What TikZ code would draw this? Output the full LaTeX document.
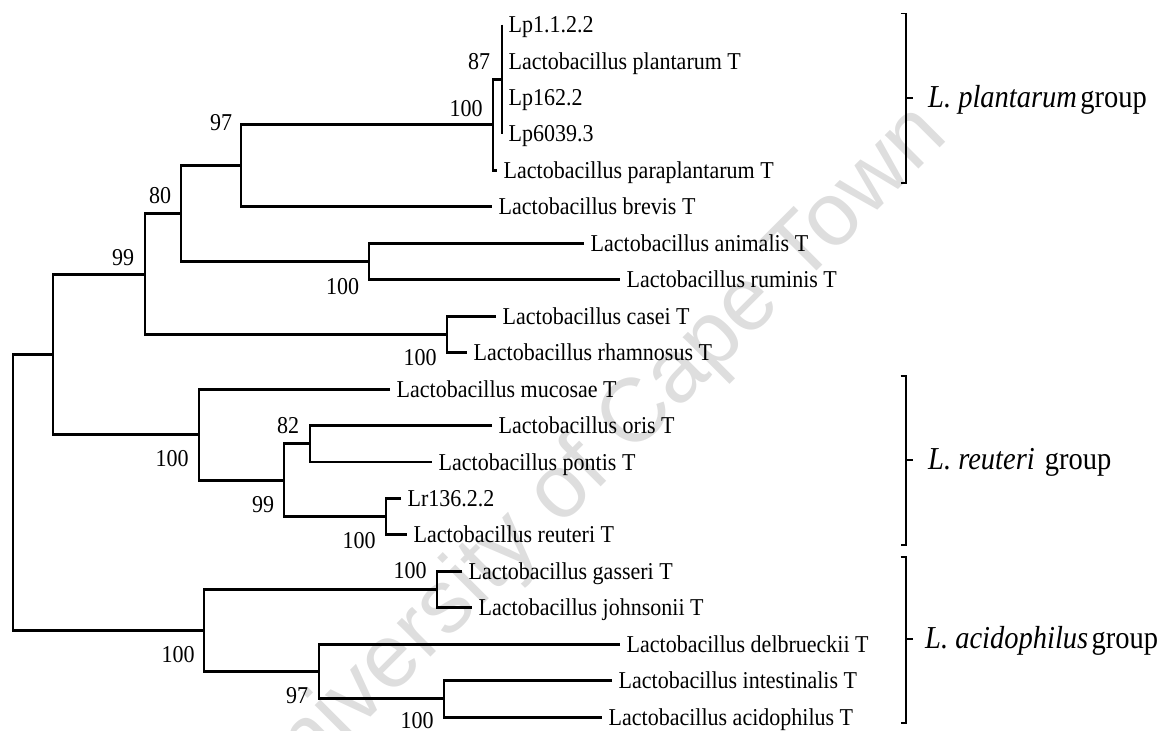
\documentclass[tikz,border=0pt]{standalone}
\usepackage{fontspec}
\setmainfont{Liberation Serif}
\newfontfamily\wmfont{Liberation Sans}
\newcommand{\tallt}[1]{\scalebox{1}[1.1]{#1}}
\newcommand{\tallg}[1]{\scalebox{1}[1.12]{#1}}
\begin{document}
\begin{tikzpicture}[x=1pt,y=-1pt,
  tree/.style={line width=2.9pt,line join=miter},
  brk/.style={line width=1.4pt},
  leaf/.style={anchor=west,inner xsep=6.5pt,inner ysep=0pt,text height=16pt,text depth=0pt,font=\fontsize{22}{26}\selectfont},
  boot/.style={anchor=center,inner sep=0pt,text height=16pt,text depth=0pt,font=\fontsize{22}{26}\selectfont},
  grp/.style={anchor=west,inner sep=0pt,text height=21pt,text depth=0pt,font=\fontsize{28.5}{32}\selectfont},
  wm/.style={text=black!13,font=\wmfont\fontsize{90}{100}\selectfont,rotate=45,inner sep=0pt}]
\useasboundingbox (0,0) rectangle (1168,731);
% watermark
\node[wm] (watermark) at (590,465) {University of Cape Town};
% leaves
\node[leaf] (lp1)    at (502,24.6)   {\tallt{Lp1.1.2.2}};
\node[leaf] (lpl)    at (502,61.05)  {\tallt{Lactobacillus plantarum T}};
\node[leaf] (lp162)  at (502,97.5)   {\tallt{Lp162.2}};
\node[leaf] (lp6039) at (502,133.95) {\tallt{Lp6039.3}};
\node[leaf] (para)   at (497,170.4)  {\tallt{Lactobacillus paraplantarum T}};
\node[leaf] (brev)   at (492,206.85) {\tallt{Lactobacillus brevis T}};
\node[leaf] (anim)   at (584,243.3)  {\tallt{Lactobacillus animalis T}};
\node[leaf] (rumi)   at (620,279.75) {\tallt{Lactobacillus ruminis T}};
\node[leaf] (case)   at (496,316.2)  {\tallt{Lactobacillus casei T}};
\node[leaf] (rham)   at (467,352.65) {\tallt{Lactobacillus rhamnosus T}};
\node[leaf] (muco)   at (390,389.1)  {\tallt{Lactobacillus mucosae T}};
\node[leaf] (oris)   at (492,425.55) {\tallt{Lactobacillus oris T}};
\node[leaf] (pont)   at (432,462)    {\tallt{Lactobacillus pontis T}};
\node[leaf] (lr)     at (401,498.45) {\tallt{Lr136.2.2}};
\node[leaf] (reut)   at (407,534.9)  {\tallt{Lactobacillus reuteri T}};
\node[leaf] (gass)   at (462,571.35) {\tallt{Lactobacillus gasseri T}};
\node[leaf] (john)   at (472,607.8)  {\tallt{Lactobacillus johnsonii T}};
\node[leaf] (delb)   at (620,644.25) {\tallt{Lactobacillus delbrueckii T}};
\node[leaf] (inte)   at (612,680.7)  {\tallt{Lactobacillus intestinalis T}};
\node[leaf] (acid)   at (602,717.15) {\tallt{Lactobacillus acidophilus T}};
% internal nodes
\coordinate (p87)  at (502,79.3);
\coordinate (p100) at (493,124.85);
\coordinate (p97)  at (241,165.9);
\coordinate (pani) at (369,261.5);
\coordinate (p80)  at (181,213.7);
\coordinate (pcas) at (447,334.4);
\coordinate (p99)  at (145,274.05);
\coordinate (p82)  at (310,443.8);
\coordinate (pLr)  at (386,516.7);
\coordinate (p99b) at (284,480.2);
\coordinate (preu) at (199,434.65);
\coordinate (pA)   at (53,354.35);
\coordinate (pgas) at (437,589.6);
\coordinate (pint) at (444,698.9);
\coordinate (p97b) at (319,671.6);
\coordinate (pAc)  at (204,630.6);
\coordinate (root) at (13,492.5);
% branches
\draw[tree] (lp1.west) -- (lp6039.west);
\draw[tree] (p87) -| (p100) |- (para);
\draw[tree] (p100) -| (p97) |- (brev);
\draw[tree] (anim) -| (pani) |- (rumi);
\draw[tree] (p97) -| (p80) |- (pani);
\draw[tree] (case) -| (pcas) |- (rham);
\draw[tree] (p80) -| (p99) |- (pcas);
\draw[tree] (oris) -| (p82) |- (pont);
\draw[tree] (lr) -| (pLr) |- (reut);
\draw[tree] (p82) -| (p99b) |- (pLr);
\draw[tree] (muco) -| (preu) |- (p99b);
\draw[tree] (p99) -| (pA) |- (preu);
\draw[tree] (gass) -| (pgas) |- (john);
\draw[tree] (inte) -| (pint) |- (acid);
\draw[tree] (delb) -| (p97b) |- (pint);
\draw[tree] (pgas) -| (pAc) |- (p97b);
\draw[tree] (pA) -| (root) |- (pAc);
% bootstrap values
\node[boot] (b87)   at (479,61.5)  {\tallt{87}};
\node[boot] (b100a) at (466,108)   {\tallt{100}};
\node[boot] (b97a)  at (221,122)   {\tallt{97}};
\node[boot] (b80)   at (160,195)   {\tallt{80}};
\node[boot] (b99a)  at (123,257)   {\tallt{99}};
\node[boot] (b100b) at (342.5,286.7) {\tallt{100}};
\node[boot] (b100c) at (420,357.5) {\tallt{100}};
\node[boot] (b100d) at (172,458)   {\tallt{100}};
\node[boot] (b82)   at (288,425)   {\tallt{82}};
\node[boot] (b99b)  at (263,504.5) {\tallt{99}};
\node[boot] (b100e) at (359,540.5) {\tallt{100}};
\node[boot] (b100f) at (410,570.5) {\tallt{100}};
\node[boot] (b100g) at (178,654.5) {\tallt{100}};
\node[boot] (b97b)  at (297,695.5) {\tallt{97}};
\node[boot] (b100h) at (417,720.5) {\tallt{100}};
% group brackets
\coordinate (g1t) at (900.5,13.3);  \coordinate (g1b) at (900.5,183);  \coordinate (g1m) at (906,98);
\coordinate (g2t) at (900.5,376);   \coordinate (g2b) at (900.5,545);  \coordinate (g2m) at (906,460);
\coordinate (g3t) at (900.5,557);   \coordinate (g3b) at (900.5,723);  \coordinate (g3m) at (906,639);
\node[grp] (grp1) at (928,97)  {\tallg{\textit{L. plantarum}\hspace{0.12em}group}};
\node[grp] (grp2) at (928,459) {\tallg{\textit{L. reuteri}\hspace{0.35em}group}};
\node[grp] (grp3) at (925,638) {\tallg{\textit{L. acidophilus}\hspace{0.12em}group}};
\draw[brk] (g1t) -- ++(5.5,0) |- (g1b);
\draw[brk] (g1m) -- ++(7,0);
\draw[brk] (g2t) -- ++(5.5,0) |- (g2b);
\draw[brk] (g2m) -- ++(7,0);
\draw[brk] (g3t) -- ++(5.5,0) |- (g3b);
\draw[brk] (g3m) -- ++(7,0);
\end{tikzpicture}
\end{document}
